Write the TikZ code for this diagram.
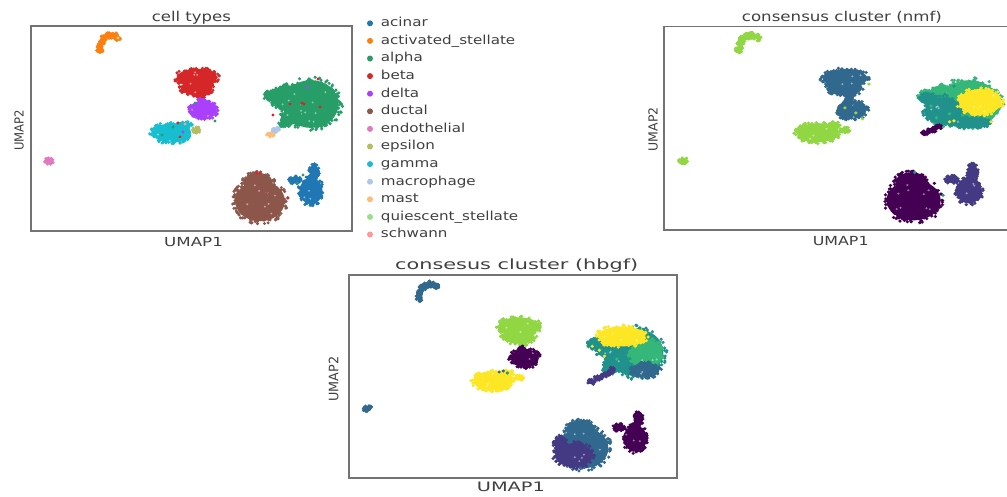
\documentclass[tikz,border=0pt]{standalone}
\usepackage{fontspec}
\setmainfont{DejaVu Sans}

% category palette
\definecolor{cAcin}{HTML}{1F77B4}
\definecolor{cAct}{HTML}{FF7F0E}
\definecolor{cAlpha}{HTML}{279E68}
\definecolor{cBeta}{HTML}{D62728}
\definecolor{cDelta}{HTML}{AA40FC}
\definecolor{cDuct}{HTML}{8C564B}
\definecolor{cEndo}{HTML}{E377C2}
\definecolor{cEps}{HTML}{B5BD61}
\definecolor{cGamma}{HTML}{17BECF}
\definecolor{cMacro}{HTML}{AEC7E8}
\definecolor{cMast}{HTML}{FFBB78}
\definecolor{cQui}{HTML}{98DF8A}
\definecolor{cSchw}{HTML}{FF9896}
% viridis, seven clusters
\definecolor{vA}{HTML}{440154}
\definecolor{vB}{HTML}{443983}
\definecolor{vC}{HTML}{31688E}
\definecolor{vD}{HTML}{21918C}
\definecolor{vE}{HTML}{35B779}
\definecolor{vF}{HTML}{90D743}
\definecolor{vG}{HTML}{FDE725}

\tikzset{
  frame/.style={draw=black!55, line width=1.3pt},
  txt/.style={inner sep=0pt, text=black!75},
}

% a cloud of points: centre x, centre y, x radius, y radius, colour
\newcommand\blob[5]{%
  \fill[#5] (#1,#2) ellipse [x radius={0.92*#3}, y radius={0.92*#4}];
  \pgfmathtruncatemacro\blobn{(#3+#4)*2}%
  \foreach \k in {1,...,\blobn}{%
    \pgfmathsetmacro\ba{360*rnd}%
    \pgfmathsetmacro\br{0.82+0.24*rnd}%
    \fill[#5] ({#1+#3*\br*cos(\ba)},{#2+#4*\br*sin(\ba)}) circle [radius=1.7];
  }%
  \pgfmathtruncatemacro\blobm{#3*#4/60}%
  \ifnum\blobm>0
  \foreach \k in {1,...,\blobm}{%
    \pgfmathsetmacro\ba{360*rnd}%
    \pgfmathsetmacro\br{0.75*sqrt(rnd)}%
    \fill[white, opacity=0.45] ({#1+#3*\br*cos(\ba)},{#2+#4*\br*sin(\ba)}) circle [radius=1.1];
  }%
  \fi}
\newcommand\sdot[3]{\fill[#3] (#1,#2) circle [radius=1.7];}

% shapes of the embedding, in frame coordinates
\newcommand\shArc[1]{\blob{69}{23}{3.5}{3.5}{#1}\blob{70}{18}{3}{3}{#1}\blob{72}{13}{3}{3}{#1}%
  \blob{76}{10}{3}{3}{#1}\blob{80}{9}{3}{3}{#1}\blob{84}{10}{3}{3}{#1}\blob{87}{12}{2.5}{2.5}{#1}}
\newcommand\shEndo[1]{\blob{18}{135}{4.5}{3}{#1}}
\newcommand\shBeta[1]{\blob{166}{52}{22}{10}{#1}\blob{166}{62}{17}{8}{#1}\blob{170}{69}{4}{4}{#1}}
\newcommand\shDelta[1]{\blob{172}{84}{15}{10}{#1}\blob{170}{75}{4}{3}{#1}}
\newcommand\shGamma[1]{\blob{141}{107}{21}{10.5}{#1}\blob{155}{99}{6}{3.5}{#1}}
\newcommand\shEps[1]{\blob{166}{104}{4.5}{3}{#1}}
\newcommand\shAlpha[1]{\blob{280}{78}{30}{26}{#1}\blob{256}{72}{16}{14}{#1}%
  \blob{242}{70}{9}{6}{#1}\blob{259}{91}{10}{7}{#1}\blob{254}{97}{6}{4}{#1}}
\newcommand\shDuct[1]{\blob{229}{175}{27}{22}{#1}\blob{227}{157}{16}{11}{#1}}
\newcommand\shAcin[1]{\blob{280}{165}{12.5}{14.5}{#1}\blob{283}{146}{5}{8}{#1}\blob{264}{154}{6}{4}{#1}}

\begin{document}
\begin{tikzpicture}[x=1pt, y=-1pt]
\useasboundingbox (0,0) rectangle (1007,496);
\clip (0,0) rectangle (1007,496);
\fill[white] (0,0) rectangle (1007,496);
\pgfmathsetseed{7}

% ---------- cell types ----------
\begin{scope}[shift={(31,26)}]
  \shArc{cAct} \sdot{87}{12}{cQui}
  \shEndo{cEndo}
  \shBeta{cBeta}
  \shDelta{cDelta}
  \shGamma{cGamma}
  \shEps{cEps}
  \shAlpha{cAlpha}
  \blob{245}{104}{4}{2.5}{cMacro}
  \blob{239}{109}{4}{2}{cMast}
  \shDuct{cDuct}
  \shAcin{cAcin}
  % mixed-in cells
  \sdot{259}{78}{cBeta} \sdot{271}{77}{cBeta} \sdot{273}{78}{cBeta} \sdot{289}{81}{cBeta}
  \sdot{287}{53}{cBeta} \sdot{242}{89}{cBeta} \sdot{276}{61}{cDelta}
  \sdot{226}{147}{cBeta} \sdot{229}{147}{cBeta}
  \sdot{272}{149}{cAlpha} \sdot{266}{157}{cAlpha} \sdot{257}{172}{cBeta}
  \sdot{147}{97}{cBeta} \sdot{142}{101}{cAlpha} \sdot{131}{109}{cAlpha}
  \sdot{152}{106}{cDelta} \sdot{149}{111}{cBeta} \sdot{154}{98}{cSchw}
  \sdot{164}{77}{cAlpha} \sdot{184}{95}{cAlpha} \sdot{171}{71}{cBeta}
  \draw[frame] (0,0) rectangle (321,205);
\end{scope}

% ---------- consensus cluster (nmf) ----------
\begin{scope}[shift={(664,26.5)}, xscale=1.09, yscale=0.993]
  \shArc{vF}
  \shEndo{vF}
  \shBeta{vC}
  \shDelta{vC}
  \shGamma{vF}
  \shEps{vF}
  \shAlpha{vE}
  \blob{256}{85}{18}{15}{vD}\blob{242}{72}{8}{5}{vD}\blob{281}{97}{19}{6}{vD}
  \blob{290}{76}{21}{14}{vG}
  \blob{240}{107}{4}{2}{vA}\blob{246}{104}{4}{2.5}{vA}\blob{252}{101}{3}{2}{vA}
  \sdot{262}{96}{vG} \sdot{266}{95}{vG} \sdot{258}{98}{vD}
  \shDuct{vA}
  \shAcin{vB}
  \sdot{166}{82}{vF} \sdot{176}{87}{vF} \sdot{182}{93}{vF} \sdot{188}{58}{vF}
  \sdot{245}{80}{vE} \sdot{250}{92}{vE} \sdot{262}{88}{vE} \sdot{258}{68}{vD}
  \sdot{266}{60}{vD} \sdot{300}{96}{vG} \sdot{230}{147}{vD} \sdot{256}{170}{vD}
  \draw[frame] (0,0) rectangle (321,205);
\end{scope}

% ---------- consesus cluster (hbgf) ----------
\begin{scope}[shift={(349,275)}, xscale=1.022, yscale=0.99]
  \shArc{vC}
  \shEndo{vC}
  \shBeta{vF}
  \shDelta{vA}
  \shGamma{vG}
  \shEps{vG}
  \shAlpha{vD}
  \blob{291}{80}{17}{16}{vE}
  \blob{267}{62}{25}{11}{vG}
  \blob{290}{96}{15}{8}{vC}
  \blob{237}{108}{4}{2.5}{vB}\blob{244}{104}{4}{2.5}{vB}\blob{251}{100}{4}{3}{vB}\blob{257}{96}{3}{3}{vB}
  \sdot{245}{76}{vG} \sdot{250}{82}{vG} \sdot{238}{72}{vG} \sdot{262}{85}{vE}
  \shDuct{vC}
  \blob{220}{182}{20}{13}{vB}\blob{207}{170}{7}{7}{vB}
  \shAcin{vA}
  \sdot{151}{97}{vC} \sdot{147}{98}{vC} \sdot{155}{99}{vD}
  \draw[frame] (0,0) rectangle (321,205);
\end{scope}

% ---------- titles and axis labels ----------
\node[txt, anchor=base west] (t1) at (151.7,21)
  {\resizebox{79pt}{\height}{\fontsize{13.5}{15}\selectfont cell types}};
\node[txt, anchor=base west] (x1) at (164,246)
  {\resizebox{58.7pt}{\height}{\fontsize{12.5}{14}\selectfont UMAP1}};
\node[txt, anchor=base west, rotate=90] (y1) at (23.5,151)
  {\resizebox{41pt}{\height}{\fontsize{12.5}{14}\selectfont UMAP2}};

\node[txt, anchor=base west] (t2) at (741.7,21)
  {\resizebox{200pt}{\height}{\fontsize{13.5}{15}\selectfont consensus cluster (nmf)}};
\node[txt, anchor=base west] (x2) at (812.7,245)
  {\resizebox{55.7pt}{\height}{\fontsize{12.5}{14}\selectfont UMAP1}};
\node[txt, anchor=base west, rotate=90] (y2) at (657.7,151.7)
  {\resizebox{44pt}{\height}{\fontsize{12.5}{14}\selectfont UMAP2}};

\node[txt, anchor=base west] (t3) at (395,269)
  {\resizebox{243pt}{\height}{\fontsize{14}{15}\selectfont consesus cluster (hbgf)}};
\node[txt, anchor=base west] (x3) at (476.7,491)
  {\resizebox{68pt}{\height}{\fontsize{13}{14}\selectfont UMAP1}};
\node[txt, anchor=base west, rotate=90] (y3) at (338.3,401.7)
  {\resizebox{45pt}{\height}{\fontsize{13}{14}\selectfont UMAP2}};

% ---------- legend ----------
\foreach \c/\t [count=\i from 0] in {cAcin/acinar, cAct/activated\_stellate, cAlpha/alpha,
    cBeta/beta, cDelta/delta, cDuct/ductal, cEndo/endothelial, cEps/epsilon, cGamma/gamma,
    cMacro/macrophage, cMast/mast, cQui/quiescent\_stellate, cSchw/schwann}{
  \fill[\c] (370,23.3+17.6*\i) circle [radius=3];
  \node[txt, anchor=base west] (lg\i) at (380.7,26.7+17.6*\i)
    {\scalebox{1.22}[1]{\fontsize{12.4}{14}\selectfont \t}};
}
\end{tikzpicture}
\end{document}
